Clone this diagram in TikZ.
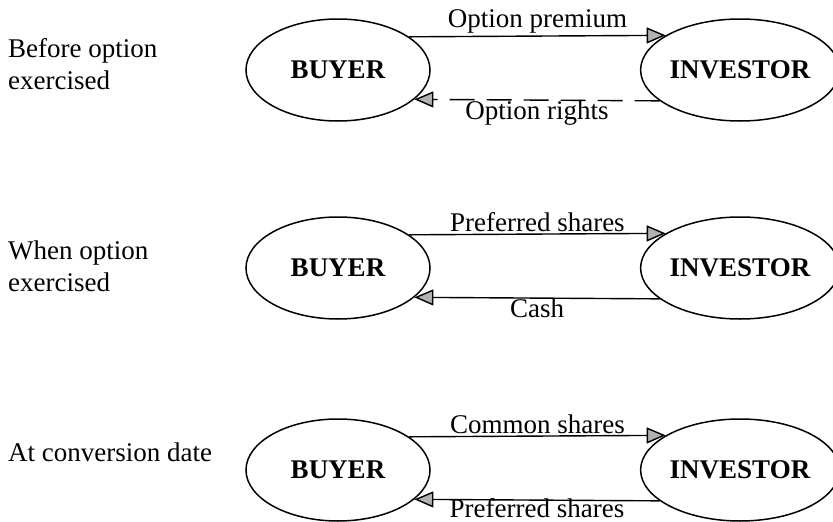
\documentclass[tikz,border=0pt]{standalone}
\usepackage{fontspec}
\setmainfont{Liberation Serif}
\usetikzlibrary{arrows.meta}
\usetikzlibrary{shapes.geometric}

\tikzset{
  party/.style={draw, ellipse, line width=1.5pt, minimum width=184pt, minimum height=102pt, inner sep=0pt, font=\fontsize{27}{32}\selectfont\bfseries},
  flow/.style={line width=1.4pt, -{Triangle[length=19pt,width=16pt,fill=gray!60]}},
  stage/.style={anchor=west, align=left, inner sep=0pt},
}

\begin{document}
\begin{tikzpicture}[x=1pt, y=-1pt, font=\fontsize{27}{32}\selectfont]
    \useasboundingbox (0,0) rectangle (833,522);

    % before the option is exercised
    \node[stage] (before) at (8,64) {Before option\\exercised};
    \node[party] (buyerA) at (338,70) {BUYER};
    \node[party] (investorA) at (740,70) {INVESTOR};
    \draw[flow] (buyerA.25) -- (investorA.155) node[midway, above, inner sep=2pt] {Option premium};
    \draw[flow, dash pattern=on 25pt off 12pt] (investorA.201) -- (buyerA.339) node[midway, below, inner sep=0pt] {Option rights};

    % when the option is exercised
    \node[stage] (when) at (8,266) {When option\\exercised};
    \node[party] (buyerB) at (338,268) {BUYER};
    \node[party] (investorB) at (740,268) {INVESTOR};
    \draw[flow] (buyerB.25) -- (investorB.155) node[midway, above, inner sep=2pt] {Preferred shares};
    \draw[flow] (investorB.201) -- (buyerB.339) node[midway, below, inner sep=0pt] {Cash};

    % conversion
    \node[stage] (conversion) at (8,452) {At conversion date};
    \node[party] (buyerC) at (338,470) {BUYER};
    \node[party] (investorC) at (740,470) {INVESTOR};
    \draw[flow] (buyerC.25) -- (investorC.155) node[midway, above, inner sep=2pt] {Common shares};
    \draw[flow] (investorC.201) -- (buyerC.339) node[midway, below, inner sep=0pt, yshift=2pt] {Preferred shares};
\end{tikzpicture}
\end{document}
